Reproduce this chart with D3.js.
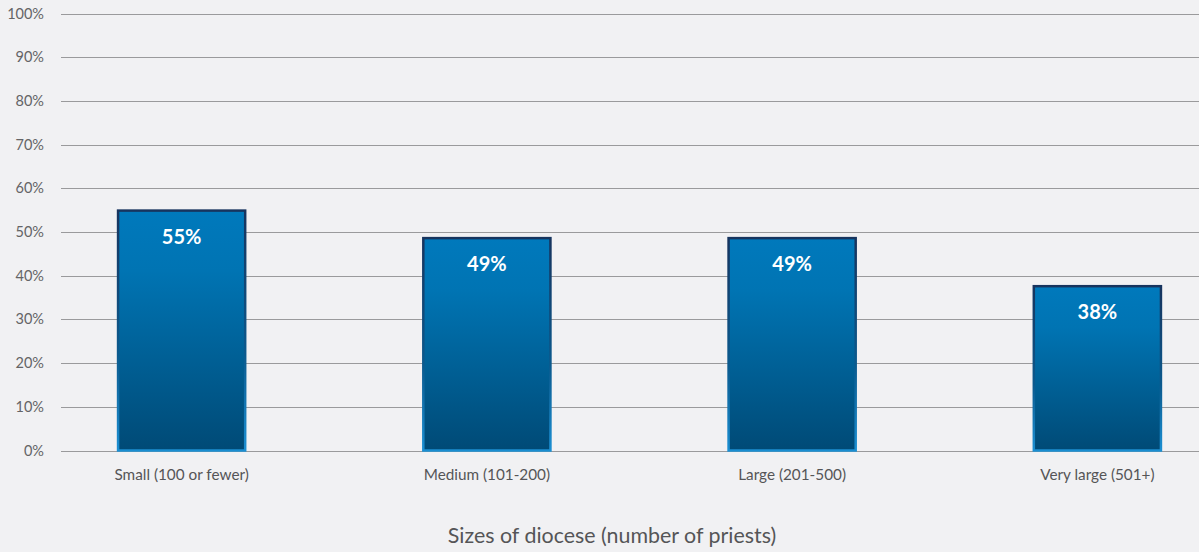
<!DOCTYPE html>
<html><head><meta charset="utf-8">
<script src="https://cdn.jsdelivr.net/npm/d3@7"></script>
<style>
html,body{margin:0;padding:0;background:#f1f1f3;}
svg{display:block;font-family:Lato,"Open Sans",sans-serif;}
</style></head>
<body><svg id="c" width="1199" height="552"></svg>
<script>
const categories = ["Small (100 or fewer)", "Medium (101-200)", "Large (201-500)", "Very large (501+)"];
const values = [54.9, 48.6, 48.6, 37.6];
const yTicks = [0,10,20,30,40,50,60,70,80,90,100];
const xTitle = "Sizes of diocese (number of priests)";

const svg = d3.select("#c");
const W = 1199, H = 552;
svg.append("rect").attr("width",W).attr("height",H).attr("fill","#f1f1f3");

const y = d3.scaleLinear().domain([0,100]).range([450.5,13.5]);
const x = d3.scaleBand().domain(categories).range([29,1250]).paddingInner(0.577).paddingOuter(0.2885);

const defs = svg.append("defs");
const gf = defs.append("linearGradient").attr("id","gf").attr("x1",0).attr("y1",0).attr("x2",0).attr("y2",1);
gf.append("stop").attr("offset","0").attr("stop-color","#0079bc");
gf.append("stop").attr("offset","0.25").attr("stop-color","#0074b3");
gf.append("stop").attr("offset","1").attr("stop-color","#004a76");
const gs = defs.append("linearGradient").attr("id","gs").attr("x1",0).attr("y1",0).attr("x2",0).attr("y2",1);
gs.append("stop").attr("offset","0").attr("stop-color","#17345e");
gs.append("stop").attr("offset","0.6").attr("stop-color","#0b5a8e");
gs.append("stop").attr("offset","1").attr("stop-color","#1b8fd2");

// grid
svg.append("g").selectAll("line").data(yTicks).join("line")
  .attr("x1",61).attr("x2",W).attr("y1",d=>Math.round(y(d))+0.5).attr("y2",d=>Math.round(y(d))+0.5)
  .attr("stroke","#9a9a9c").attr("stroke-width",1.2);

// y tick labels
svg.append("g").selectAll("text").data(yTicks).join("text")
  .attr("x",44).attr("y",d=>y(d)).attr("dy","0.35em").attr("text-anchor","end")
  .attr("fill","#646466").attr("font-size",14.5).text(d=>d+"%");

// bars
svg.append("g").selectAll("rect").data(values).join("rect")
  .attr("x",(d,i)=>x(categories[i])+1)
  .attr("y",d=>y(d))
  .attr("width",x.bandwidth()-2)
  .attr("height",d=>y(0)-y(d))
  .attr("fill","url(#gf)")
  .attr("stroke","url(#gs)").attr("stroke-width",2.5);

// value labels
svg.append("g").selectAll("text").data(values).join("text")
  .attr("x",(d,i)=>x(categories[i])+x.bandwidth()/2)
  .attr("y",d=>y(d)+33)
  .attr("text-anchor","middle").attr("fill","#ffffff")
  .attr("font-size",20).attr("font-weight","bold")
  .text(d=>Math.round(d)+"%");

// category labels
svg.append("g").selectAll("text").data(categories).join("text")
  .attr("x",d=>x(d)+x.bandwidth()/2).attr("y",480)
  .attr("text-anchor","middle").attr("fill","#555557").attr("font-size",15.3).text(d=>d);

// axis title
svg.append("text").attr("x",612).attr("y",543).attr("text-anchor","middle")
  .attr("fill","#555557").attr("font-size",21.4).text(xTitle);
</script></body></html>
